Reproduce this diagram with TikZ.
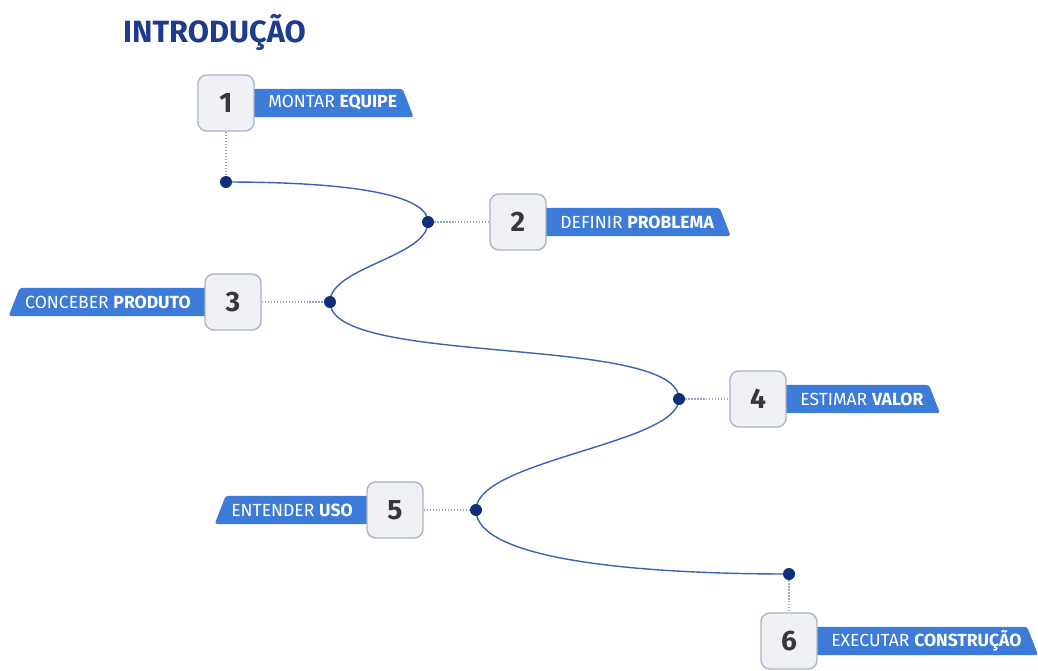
\documentclass[tikz,border=0pt]{standalone}
\usepackage{fontspec}
\setmainfont{Fira Sans}
\usetikzlibrary{backgrounds}
\definecolor{titleblue}{HTML}{1E3C8F}
\definecolor{bannerblue}{HTML}{3D7BD9}
\definecolor{dotblue}{HTML}{0F2D7A}
\definecolor{routeblue}{HTML}{3A62B8}
\definecolor{boxfill}{HTML}{EFF1F5}
\definecolor{boxline}{HTML}{A9B4C7}
\definecolor{linkgray}{HTML}{9AAAC4}
\begin{document}
\begin{tikzpicture}[x=0.02cm, y=-0.02cm]
			\tikzset{
				stepbox/.style={draw=boxline, line width=0.8pt, fill=boxfill, rounded corners=5pt,
						minimum size=1.12cm, inner sep=0, text=black!78, font=\fontsize{16}{16}\selectfont\bfseries},
				dot/.style={circle, fill=dotblue, minimum size=0.24cm, inner sep=0},
				bannertext/.style={text=white, minimum height=0.55cm, inner ysep=0, inner xsep=3pt,
						font=\fontsize{10}{10}\selectfont},
				banner/.style={fill=bannerblue, rounded corners=1.5pt},
				link/.style={draw=linkgray, densely dotted, line width=0.7pt},
				route/.style={draw=routeblue, line width=0.8pt},
			}
			\useasboundingbox (0,0) rectangle (1038,670);
			\node[anchor=base west, text=titleblue, font=\fontsize{17.5}{17.5}\selectfont\bfseries] (title) at (117,42) {INTRODUÇÃO};
			\foreach \n/\x/\y/\dx/\dy in {1/226/103/226/182, 2/518/222/428/222, 3/233/302/330/302,
					4/758/399/679/399, 5/395/510/476/510, 6/789/641/789/574}
				{
					\node[stepbox] (box\n) at (\x,\y) {\n};
					\node[dot] (d\n) at (\dx,\dy) {};
				}
			\foreach \n/\first/\second in {1/MONTAR/EQUIPE, 2/DEFINIR/PROBLEMA, 4/ESTIMAR/VALOR, 6/EXECUTAR/CONSTRUÇÃO}
				{
					\node[bannertext, anchor=west] (lbl\n) at ([xshift=0.16cm]box\n.east) {\first{} \textbf{\second}};
					\begin{pgfonlayer}{background}
						\path[banner] (box\n.center |- lbl\n.north) -- (lbl\n.north east)
						-- ([xshift=0.22cm]lbl\n.south east) -- (box\n.center |- lbl\n.south) -- cycle;
					\end{pgfonlayer}
				}
			\foreach \n/\first/\second in {3/CONCEBER/PRODUTO, 5/ENTENDER/USO}
				{
					\node[bannertext, anchor=east] (lbl\n) at ([xshift=-0.16cm]box\n.west) {\first{} \textbf{\second}};
					\begin{pgfonlayer}{background}
						\path[banner] (box\n.center |- lbl\n.north) -- (lbl\n.north west)
						-- ([xshift=-0.22cm]lbl\n.south west) -- (box\n.center |- lbl\n.south) -- cycle;
					\end{pgfonlayer}
				}
			\path[link] (box1) -- (d1);
			\path[link] (d2) -- (box2);
			\path[link] (box3) -- (d3);
			\path[link] (d4) -- (box4);
			\path[link] (box5) -- (d5);
			\path[link] (d6) -- (box6);
			\begin{pgfonlayer}{background}
				\path[route] (d1.center) .. controls +(110,0) and +(0,-30) .. (d2.center)
				.. controls +(0,35) and +(0,-35) .. (d3.center)
				.. controls +(0,65) and +(0,-65) .. (d4.center)
				.. controls +(0,45) and +(0,-50) .. (d5.center)
				.. controls +(0,50) and +(-150,0) .. (d6.center);
			\end{pgfonlayer}
		\end{tikzpicture}
\end{document}
